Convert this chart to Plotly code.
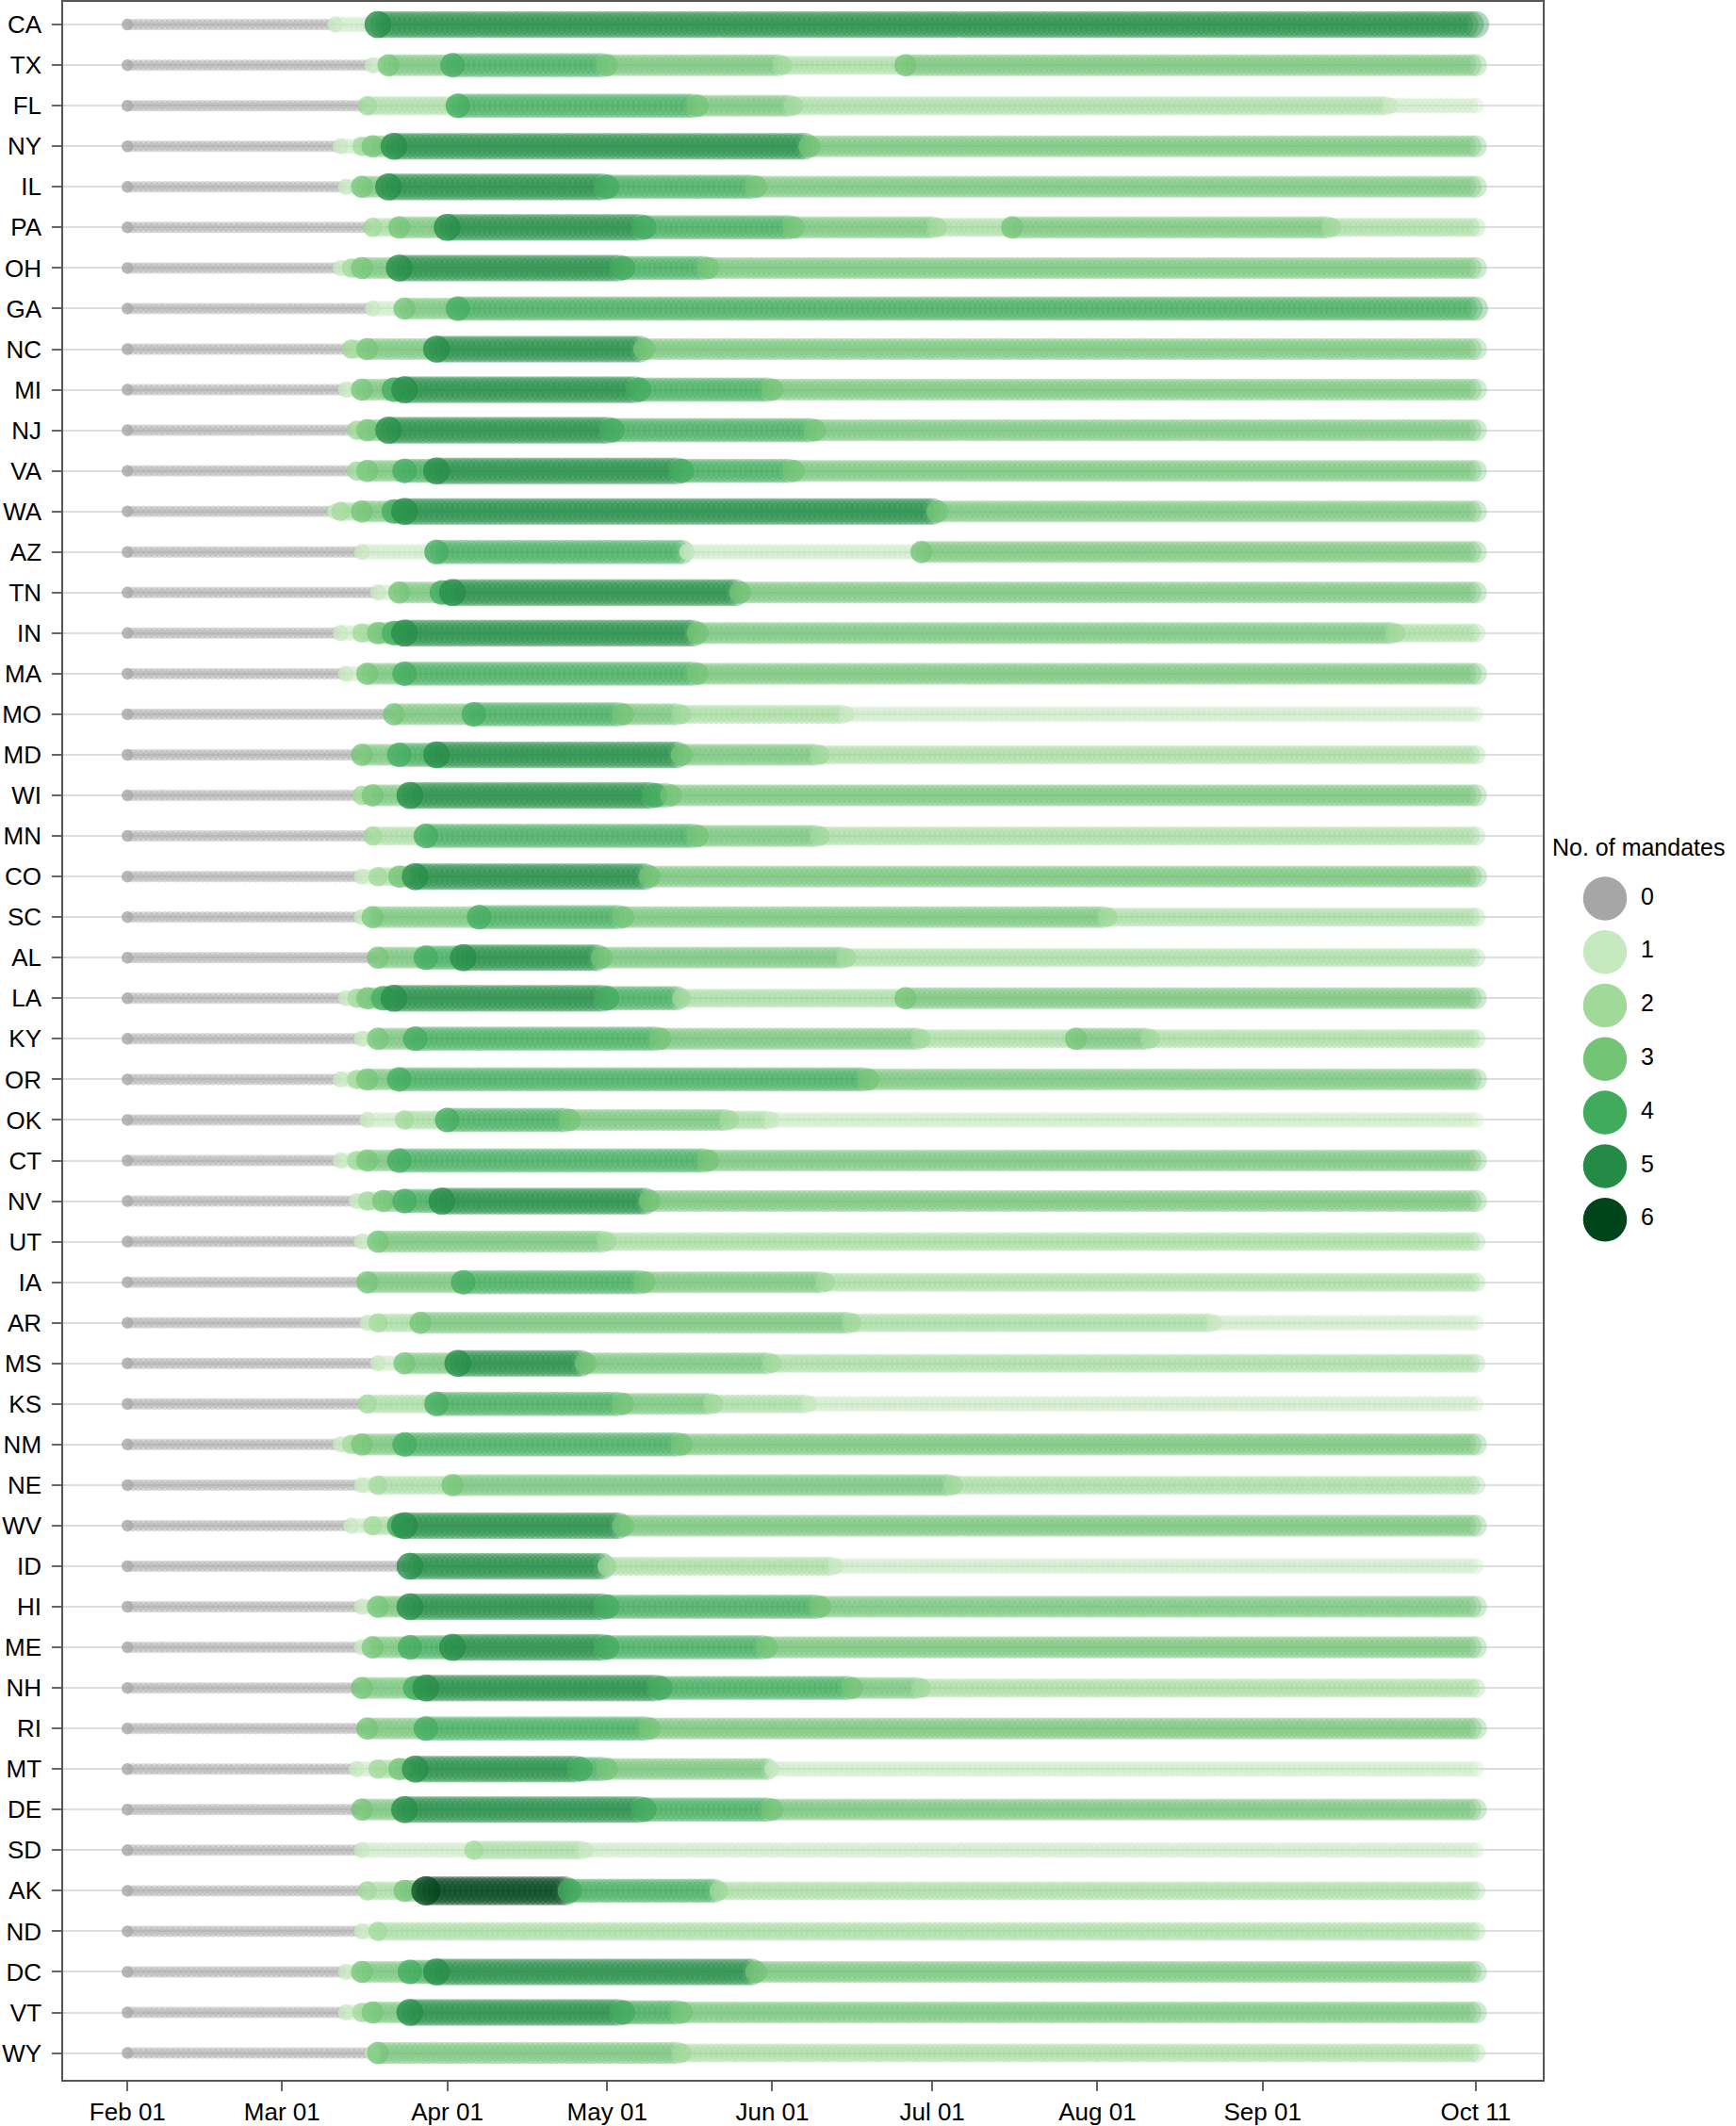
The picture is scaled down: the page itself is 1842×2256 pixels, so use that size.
import numpy as np
import pandas as pd
import plotly.graph_objects as go

# states, top to bottom
states = ["CA", "TX", "FL", "NY", "IL", "PA", "OH", "GA", "NC", "MI", "NJ", "VA", "WA",
          "AZ", "TN", "IN", "MA", "MO", "MD", "WI", "MN", "CO", "SC", "AL", "LA", "KY",
          "OR", "OK", "CT", "NV", "UT", "IA", "AR", "MS", "KS", "NM", "NE", "WV", "ID",
          "HI", "ME", "NH", "RI", "MT", "DE", "SD", "AK", "ND", "DC", "VT", "WY"]

# dates (2020, MM-DD) where the number of mandates changes, and the new number
change_dates = [
    ["02-01", "03-11", "03-19"],                                              # CA
    ["02-01", "03-18", "03-21", "04-02", "05-01", "06-03", "06-26"],          # TX
    ["02-01", "03-17", "04-03", "05-18", "06-05", "09-25"],                   # FL
    ["02-01", "03-12", "03-16", "03-18", "03-22", "06-08"],                   # NY
    ["02-01", "03-13", "03-16", "03-21", "05-01", "05-29"],                   # IL
    ["02-01", "03-18", "03-23", "04-01", "05-08", "06-05", "07-02", "07-16", "09-14"],  # PA
    ["02-01", "03-12", "03-14", "03-16", "03-23", "05-04", "05-20"],          # OH
    ["02-01", "03-18", "03-24", "04-03"],                                     # GA
    ["02-01", "03-14", "03-17", "03-30", "05-08"],                            # NC
    ["02-01", "03-13", "03-16", "03-22", "03-24", "05-07", "06-01"],          # MI
    ["02-01", "03-15", "03-17", "03-21", "05-02", "06-09"],                   # NJ
    ["02-01", "03-15", "03-17", "03-24", "03-30", "05-15", "06-05"],          # VA
    ["02-01", "03-11", "03-12", "03-16", "03-22", "03-24", "07-02"],          # WA
    ["02-01", "03-16", "03-30", "05-16", "06-29"],                            # AZ
    ["02-01", "03-19", "03-23", "03-31", "04-02", "05-26"],                   # TN
    ["02-01", "03-12", "03-16", "03-19", "03-22", "03-24", "05-18", "09-26"], # IN
    ["02-01", "03-13", "03-17", "03-24", "05-18"],                            # MA
    ["02-01", "03-22", "04-06", "05-04", "05-15", "06-15"],                   # MO
    ["02-01", "03-16", "03-23", "03-30", "05-15", "06-10"],                   # MD
    ["02-01", "03-16", "03-18", "03-25", "05-10", "05-13"],                   # WI
    ["02-01", "03-18", "03-28", "05-18", "06-10"],                            # MN
    ["02-01", "03-16", "03-19", "03-23", "03-26", "05-09"],                   # CO
    ["02-01", "03-16", "03-18", "04-07", "05-04", "08-03"],                   # SC
    ["02-01", "03-19", "03-28", "04-04", "04-30", "06-15"],                   # AL
    ["02-01", "03-13", "03-15", "03-17", "03-20", "03-22", "05-01", "05-15", "06-26"],  # LA
    ["02-01", "03-16", "03-19", "03-26", "05-11", "06-29", "07-28", "08-11"], # KY
    ["02-01", "03-12", "03-15", "03-17", "03-23", "06-19"],                   # OR
    ["02-01", "03-17", "03-24", "04-01", "04-24", "05-24", "06-01"],          # OK
    ["02-01", "03-12", "03-15", "03-17", "03-23", "05-20"],                   # CT
    ["02-01", "03-15", "03-17", "03-20", "03-24", "03-31", "05-09"],          # NV
    ["02-01", "03-16", "03-19", "05-01"],                                     # UT
    ["02-01", "03-17", "04-04", "05-08", "06-11"],                            # IA
    ["02-01", "03-17", "03-19", "03-27", "06-16", "08-23"],                   # AR
    ["02-01", "03-19", "03-24", "04-03", "04-27", "06-01"],                   # MS
    ["02-01", "03-17", "03-30", "05-04", "05-21", "06-08"],                   # KS
    ["02-01", "03-12", "03-14", "03-16", "03-24", "05-15"],                   # NM
    ["02-01", "03-16", "03-19", "04-02", "07-05"],                            # NE
    ["02-01", "03-14", "03-18", "03-23", "03-24", "05-04"],                   # WV
    ["02-01", "03-25", "05-01", "06-13"],                                     # ID
    ["02-01", "03-16", "03-19", "03-25", "05-01", "06-10"],                   # HI
    ["02-01", "03-16", "03-18", "03-25", "04-02", "05-01", "05-31"],          # ME
    ["02-01", "03-16", "03-26", "03-28", "05-11", "06-16", "06-29"],          # NH
    ["02-01", "03-17", "03-28", "05-09"],                                     # RI
    ["02-01", "03-15", "03-19", "03-23", "03-26", "04-26", "05-01", "06-01"], # MT
    ["02-01", "03-16", "03-24", "05-08", "06-01"],                            # DE
    ["02-01", "03-16", "04-06", "04-27"],                                     # SD
    ["02-01", "03-17", "03-24", "03-28", "04-24", "05-22"],                   # AK
    ["02-01", "03-16", "03-19"],                                              # ND
    ["02-01", "03-13", "03-16", "03-25", "03-30", "05-29"],                   # DC
    ["02-01", "03-13", "03-16", "03-18", "03-25", "05-04", "05-15"],          # VT
    ["02-01", "03-18", "03-19", "05-15"],                                     # WY
]
change_levels = [
    [0, 1, 5],                      # CA
    [0, 1, 3, 4, 3, 2, 3],          # TX
    [0, 2, 4, 3, 2, 1],             # FL
    [0, 1, 2, 3, 5, 3],             # NY
    [0, 1, 3, 5, 4, 3],             # IL
    [0, 2, 3, 5, 4, 3, 2, 3, 2],    # PA
    [0, 1, 2, 3, 5, 4, 3],          # OH
    [0, 1, 3, 4],                   # GA
    [0, 2, 3, 5, 3],                # NC
    [0, 1, 3, 4, 5, 4, 3],          # MI
    [0, 2, 3, 5, 4, 3],             # NJ
    [0, 2, 3, 4, 5, 4, 3],          # VA
    [0, 1, 2, 3, 4, 5, 3],          # WA
    [0, 1, 4, 1, 3],                # AZ
    [0, 1, 3, 4, 5, 3],             # TN
    [0, 1, 2, 3, 4, 5, 3, 2],       # IN
    [0, 1, 3, 4, 3],                # MA
    [0, 3, 4, 3, 2, 1],             # MO
    [0, 3, 4, 5, 3, 2],             # MD
    [0, 2, 3, 5, 4, 3],             # WI
    [0, 2, 4, 3, 2],                # MN
    [0, 1, 2, 3, 5, 3],             # CO
    [0, 1, 3, 4, 3, 2],             # SC
    [0, 3, 4, 5, 3, 2],             # AL
    [0, 1, 2, 3, 4, 5, 4, 2, 3],    # LA
    [0, 1, 3, 4, 3, 2, 3, 2],       # KY
    [0, 1, 2, 3, 4, 3],             # OR
    [0, 1, 2, 4, 3, 2, 1],          # OK
    [0, 1, 2, 3, 4, 3],             # CT
    [0, 1, 2, 3, 4, 5, 3],          # NV
    [0, 1, 3, 2],                   # UT
    [0, 3, 4, 3, 2],                # IA
    [0, 1, 2, 3, 2, 1],             # AR
    [0, 1, 3, 5, 3, 2],             # MS
    [0, 2, 4, 3, 2, 1],             # KS
    [0, 1, 2, 3, 4, 3],             # NM
    [0, 1, 2, 3, 2],                # NE
    [0, 1, 2, 4, 5, 3],             # WV
    [0, 5, 2, 1],                   # ID
    [0, 1, 3, 5, 4, 3],             # HI
    [0, 1, 3, 4, 5, 4, 3],          # ME
    [0, 3, 4, 5, 4, 3, 2],          # NH
    [0, 3, 4, 3],                   # RI
    [0, 1, 2, 3, 5, 4, 3, 1],       # MT
    [0, 3, 5, 4, 3],                # DE
    [0, 1, 2, 1],                   # SD
    [0, 2, 3, 6, 4, 2],             # AK
    [0, 1, 2],                      # ND
    [0, 1, 3, 4, 5, 3],             # DC
    [0, 1, 2, 3, 5, 4, 3],          # VT
    [0, 1, 3, 2],                   # WY
]

year = "2020"
first_day = "2020-02-01"
last_day = "2020-10-11"
levels = [0, 1, 2, 3, 4, 5, 6]
tick_dates = ["2020-02-01", "2020-03-01", "2020-04-01", "2020-05-01", "2020-06-01",
              "2020-07-01", "2020-08-01", "2020-09-01", "2020-10-11"]
tick_labels = ["Feb 01", "Mar 01", "Apr 01", "May 01", "Jun 01", "Jul 01", "Aug 01",
               "Sep 01", "Oct 11"]

# style
rgb = [(166, 166, 166), (199, 233, 192), (161, 217, 155), (116, 196, 118),
       (65, 171, 93), (35, 139, 69), (0, 68, 27)]
sizes = [12.5, 17, 20.5, 23.5, 26, 28.5, 31]
band_alpha = [0.6, 0.5, 0.5, 0.5, 0.5, 0.5, 0.5]
FONT = "Liberation Sans, Arial, sans-serif"


def rgba(c, a):
    return "rgba(%d,%d,%d,%.2f)" % (c[0], c[1], c[2], a)


days = pd.date_range(first_day, last_day, freq="D")

bx, by, bc, bs = [], [], [], []
cx, cy, cc, cs = [], [], [], []
for i, st in enumerate(states):
    d = pd.to_datetime([year + "-" + s for s in change_dates[i]])
    lv = np.array(change_levels[i])
    idx = np.searchsorted(d.values, days.values, side="right") - 1
    day_lv = lv[idx]
    bx.extend(days)
    by.extend([i] * len(days))
    bc.extend(rgba(rgb[l], band_alpha[l]) for l in day_lv)
    bs.extend(sizes[l] for l in day_lv)
    cx.extend(d)
    cy.extend([i] * len(d))
    cc.extend(rgba(rgb[l], 0.95) for l in lv)
    cs.extend(sizes[l] for l in lv)

fig = go.Figure()
fig.add_trace(go.Scatter(x=bx, y=by, mode="markers",
                         marker=dict(color=bc, size=bs, line=dict(width=0)),
                         hoverinfo="skip", showlegend=False))
fig.add_trace(go.Scatter(x=cx, y=cy, mode="markers",
                         marker=dict(color=cc, size=cs, line=dict(width=0)),
                         showlegend=False))

# hand made legend on a second, hidden pair of axes
fig.add_trace(go.Scatter(x=[0] * len(levels), y=levels, mode="markers",
                         marker=dict(color=[rgba(c, 1) for c in rgb], size=46.5,
                                     line=dict(width=0)),
                         xaxis="x2", yaxis="y2", showlegend=False, hoverinfo="skip"))
fig.add_trace(go.Scatter(x=[38] * len(levels), y=levels, mode="text",
                         text=[str(l) for l in levels], textposition="middle right",
                         textfont=dict(size=25, color="black", family=FONT),
                         xaxis="x2", yaxis="y2", showlegend=False, hoverinfo="skip"))

main_right = 1570 / 1775
fig.update_layout(
    width=1842, height=2256, autosize=False,
    margin=dict(l=67, r=0, t=2, b=49),
    paper_bgcolor="white", plot_bgcolor="rgba(0,0,0,0)",
    font=dict(family=FONT, size=25, color="black"),
    xaxis=dict(domain=[0, main_right], type="date",
               range=["2020-01-19 22:00", "2020-10-23 14:00"],
               tickvals=tick_dates, ticktext=tick_labels,
               showgrid=False, zeroline=False,
               ticks="outside", ticklen=10, tickwidth=1.5, tickcolor="#666",
               showline=True, mirror=True, linecolor="#555", linewidth=1.5,
               tickfont=dict(size=26, color="black")),
    yaxis=dict(domain=[0, 1], range=[50.66, -0.56],
               tickvals=list(range(len(states))), ticktext=states,
               showgrid=True, gridcolor="#dedede", gridwidth=2, zeroline=False,
               ticks="outside", ticklen=10, tickwidth=1.5, tickcolor="#666",
               ticklabelstandoff=6,
               showline=True, mirror=True, linecolor="#555", linewidth=1.5,
               tickfont=dict(size=26, color="black")),
    xaxis2=dict(domain=[main_right, 1], anchor="y2", range=[-66, 139],
                visible=False, fixedrange=True),
    yaxis2=dict(domain=[0, 1], anchor="x2", range=[22.07, -16.75],
                visible=False, fixedrange=True),
    annotations=[dict(text="No. of mandates", xref="paper", yref="paper",
                      x=(1645 - 67) / 1775, y=(2207 - 899) / 2205,
                      xanchor="left", yanchor="middle", showarrow=False,
                      font=dict(size=25, color="black", family=FONT))],
)

# the page's default body margin would push the figure off by 8px
fig.write_html("out.html", config={"displayModeBar": False},
               post_script="document.body.style.margin='0px';")
